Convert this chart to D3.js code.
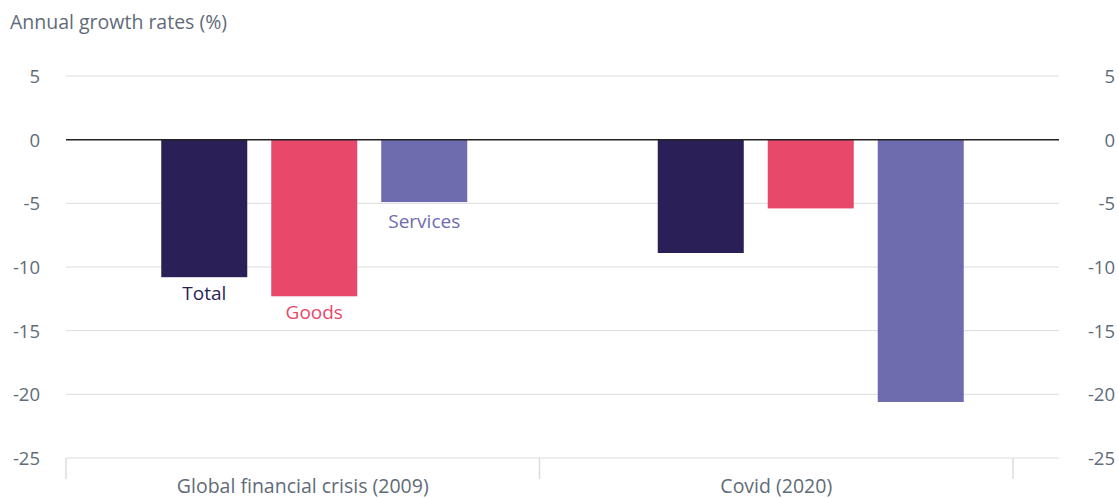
<!DOCTYPE html>
<html>
<head>
  <meta charset="utf-8">
  <script src="https://cdn.jsdelivr.net/npm/d3@7"></script>
  <style>
    html, body { margin: 0; padding: 0; background: #fff; }
    body { font-family: "Open Sans", sans-serif; }
  </style>
</head>
<body>
  <div id="container"></div>
  <script>
    // data
    const periods = ["Global financial crisis (2009)", "Covid (2020)"];
    const seriesNames = ["Total", "Goods", "Services"];
    const totalValues = [-10.8, -8.9];
    const goodsValues = [-12.3, -5.4];
    const servicesValues = [-4.9, -20.6];
    const yTicks = [5, 0, -5, -10, -15, -20, -25];

    const colors = { Total: "#2b1f57", Goods: "#e8496b", Services: "#6e6baf" };
    const values = { Total: totalValues, Goods: goodsValues, Services: servicesValues };

    const width = 1118, height = 498;
    const textGrey = "#5f6b78";

    const svg = d3.select("#container").append("svg")
      .attr("width", width)
      .attr("height", height);

    // scales
    const y = d3.scaleLinear().domain([-25, 5]).range([458, 76]);
    const xBars = d3.scaleBand().domain(periods).range([66, 1059]);
    const xSeries = d3.scaleBand().domain(seriesNames)
      .range([0, xBars.bandwidth()]).paddingInner(0.218).paddingOuter(0.866);
    // category axis drawn with its own range, as in the original
    const xAxisScale = d3.scaleBand().domain(periods).range([66, 1013]);

    // title
    svg.append("text")
      .attr("x", 10).attr("y", 29)
      .attr("fill", textGrey)
      .attr("font-size", 19.5)
      .text("Annual growth rates (%)");

    // gridlines
    svg.append("g").selectAll("line")
      .data(yTicks.filter(d => d !== 0))
      .join("line")
      .attr("x1", 66).attr("x2", 1059)
      .attr("y1", d => y(d)).attr("y2", d => y(d))
      .attr("stroke", "#dcdcdc").attr("stroke-width", 1);

    // left / right tick labels
    const leftAxis = svg.append("g")
      .attr("transform", "translate(40,0)")
      .call(d3.axisLeft(y).tickValues(yTicks).tickFormat(d => String(d)).tickSize(0).tickPadding(0));
    const rightAxis = svg.append("g")
      .attr("transform", "translate(1115,0)")
      .call(d3.axisLeft(y).tickValues(yTicks).tickFormat(d => String(d)).tickSize(0).tickPadding(0));
    [leftAxis, rightAxis].forEach(g => {
      g.select(".domain").remove();
      g.selectAll("text")
        .attr("fill", textGrey)
        .attr("font-size", 18.5)
        .attr("font-family", "Open Sans, sans-serif")
        .attr("dy", "0.35em");
    });

    // bars
    const rows = [];
    periods.forEach((p, i) => seriesNames.forEach(s => rows.push({ period: p, series: s, value: values[s][i] })));

    svg.append("g").selectAll("rect")
      .data(rows)
      .join("rect")
      .attr("x", d => xBars(d.period) + xSeries(d.series))
      .attr("width", xSeries.bandwidth())
      .attr("y", d => y(Math.max(0, d.value)))
      .attr("height", d => Math.abs(y(d.value) - y(0)))
      .attr("fill", d => colors[d.series]);

    // series labels under the GFC bars
    const labelRows = rows.filter(d => d.period === periods[0]);
    svg.append("g").selectAll("text")
      .data(labelRows)
      .join("text")
      .attr("x", d => xBars(d.period) + xSeries(d.series) + xSeries.bandwidth() / 2)
      .attr("y", d => y(d.value) + (d.series === "Services" ? 26 : 23))
      .attr("text-anchor", "middle")
      .attr("fill", d => colors[d.series])
      .attr("font-size", 19)
      .text(d => d.series);

    // zero line
    svg.append("line")
      .attr("x1", 66).attr("x2", 1059)
      .attr("y1", y(0)).attr("y2", y(0))
      .attr("stroke", "#222").attr("stroke-width", 1.5);

    // category axis
    const xAxis = svg.append("g")
      .attr("transform", `translate(0,${y(-25)})`)
      .call(d3.axisBottom(xAxisScale).tickSize(0).tickPadding(21));
    xAxis.select(".domain").remove();
    xAxis.selectAll("text")
      .attr("fill", textGrey)
      .attr("font-size", 19.5)
      .attr("font-family", "Open Sans, sans-serif");

    const bounds = [66, ...periods.map(p => xAxisScale(p) + xAxisScale.bandwidth())];
    svg.append("g").selectAll("line")
      .data(bounds)
      .join("line")
      .attr("x1", d => d).attr("x2", d => d)
      .attr("y1", y(-25)).attr("y2", y(-25) + 21)
      .attr("stroke", "#dcdcdc").attr("stroke-width", 1.5);
  </script>
</body>
</html>
